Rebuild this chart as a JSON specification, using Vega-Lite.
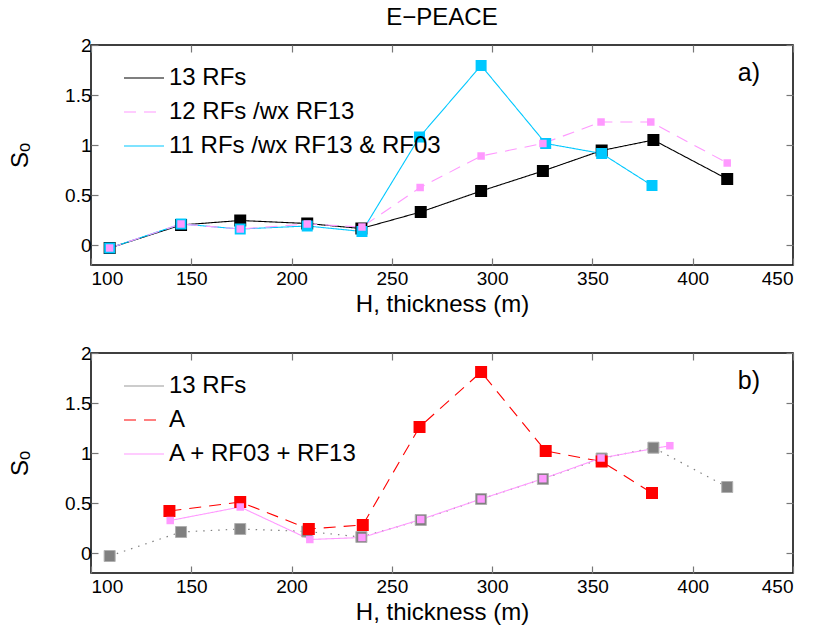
{
  "$schema": "https://vega.github.io/schema/vega-lite/v6.json",
  "padding": {"left": 7, "top": 5, "right": 5, "bottom": 5},
  "background": "white",
  "config": {
    "font": "Liberation Sans",
    "view": {"stroke": "black", "strokeWidth": 1.5},
    "title": {"fontSize": 24, "fontWeight": "normal", "color": "black"},
    "axis": {"grid": false, "domain": false, "tickSize": -7, "tickColor": "#777777", "tickWidth": 1.2,
             "labelFontSize": 19, "labelColor": "black", "titleFontSize": 24, "titleFontWeight": "normal", "titleColor": "black", "labelPadding": 11},
    "legend": {"orient": "none", "legendX": 32, "legendY": 12, "labelFontSize": 24, "labelColor": "black", "symbolType": "stroke", "labelLimit": 0,
               "symbolSize": 1600, "symbolStrokeWidth": 1.2, "rowPadding": 1, "labelOffset": 4, "title": null, "padding": 0}
  },
  "datasets": {
    "top": [
      {"s": "13 RFs", "h": 109.3, "so": -0.03}, {"s": "13 RFs", "h": 144.9, "so": 0.2}, {"s": "13 RFs", "h": 174.4, "so": 0.245},
      {"s": "13 RFs", "h": 207.8, "so": 0.215}, {"s": "13 RFs", "h": 234.8, "so": 0.165}, {"s": "13 RFs", "h": 264.4, "so": 0.33},
      {"s": "13 RFs", "h": 294.5, "so": 0.54}, {"s": "13 RFs", "h": 325.3, "so": 0.74}, {"s": "13 RFs", "h": 354.6, "so": 0.945},
      {"s": "13 RFs", "h": 380.4, "so": 1.05}, {"s": "13 RFs", "h": 417.2, "so": 0.66},
      {"s": "12 RFs /wx RF13", "h": 109.3, "so": -0.03}, {"s": "12 RFs /wx RF13", "h": 144.9, "so": 0.21}, {"s": "12 RFs /wx RF13", "h": 174.4, "so": 0.16},
      {"s": "12 RFs /wx RF13", "h": 207.8, "so": 0.21}, {"s": "12 RFs /wx RF13", "h": 235.1, "so": 0.18}, {"s": "12 RFs /wx RF13", "h": 264.1, "so": 0.575},
      {"s": "12 RFs /wx RF13", "h": 294.5, "so": 0.89}, {"s": "12 RFs /wx RF13", "h": 325.3, "so": 1.015}, {"s": "12 RFs /wx RF13", "h": 354.3, "so": 1.23},
      {"s": "12 RFs /wx RF13", "h": 379.1, "so": 1.23}, {"s": "12 RFs /wx RF13", "h": 417.2, "so": 0.82},
      {"s": "11 RFs /wx RF13 & RF03", "h": 109.3, "so": -0.03}, {"s": "11 RFs /wx RF13 & RF03", "h": 144.9, "so": 0.21}, {"s": "11 RFs /wx RF13 & RF03", "h": 174.4, "so": 0.16},
      {"s": "11 RFs /wx RF13 & RF03", "h": 207.8, "so": 0.19}, {"s": "11 RFs /wx RF13 & RF03", "h": 235.1, "so": 0.135}, {"s": "11 RFs /wx RF13 & RF03", "h": 263.8, "so": 1.08},
      {"s": "11 RFs /wx RF13 & RF03", "h": 294.5, "so": 1.795}, {"s": "11 RFs /wx RF13 & RF03", "h": 326.7, "so": 1.015}, {"s": "11 RFs /wx RF13 & RF03", "h": 354.6, "so": 0.915},
      {"s": "11 RFs /wx RF13 & RF03", "h": 379.7, "so": 0.595}
    ],
    "bot": [
      {"s": "13 RFs", "h": 109.3, "so": -0.03}, {"s": "13 RFs", "h": 144.9, "so": 0.21}, {"s": "13 RFs", "h": 174.4, "so": 0.24},
      {"s": "13 RFs", "h": 207.8, "so": 0.215}, {"s": "13 RFs", "h": 234.8, "so": 0.16}, {"s": "13 RFs", "h": 264.4, "so": 0.33},
      {"s": "13 RFs", "h": 294.5, "so": 0.54}, {"s": "13 RFs", "h": 325.3, "so": 0.74}, {"s": "13 RFs", "h": 354.6, "so": 0.945},
      {"s": "13 RFs", "h": 380.4, "so": 1.053}, {"s": "13 RFs", "h": 417.2, "so": 0.66},
      {"s": "A", "h": 139.1, "so": 0.42}, {"s": "A", "h": 174.4, "so": 0.51}, {"s": "A", "h": 208.6, "so": 0.24},
      {"s": "A", "h": 235.5, "so": 0.28}, {"s": "A", "h": 263.8, "so": 1.26}, {"s": "A", "h": 294.5, "so": 1.81},
      {"s": "A", "h": 326.7, "so": 1.02}, {"s": "A", "h": 354.6, "so": 0.915}, {"s": "A", "h": 379.7, "so": 0.6},
      {"s": "A + RF03 + RF13", "h": 139.5, "so": 0.325}, {"s": "A + RF03 + RF13", "h": 174.4, "so": 0.46}, {"s": "A + RF03 + RF13", "h": 209.1, "so": 0.135},
      {"s": "A + RF03 + RF13", "h": 235.1, "so": 0.155}, {"s": "A + RF03 + RF13", "h": 264.4, "so": 0.335}, {"s": "A + RF03 + RF13", "h": 294.5, "so": 0.54},
      {"s": "A + RF03 + RF13", "h": 325.3, "so": 0.743}, {"s": "A + RF03 + RF13", "h": 354.3, "so": 0.95}, {"s": "A + RF03 + RF13", "h": 388.6, "so": 1.073}
    ],
    "labs": [{"t": "a)", "h": 428, "so": 1.72}],
    "labsb": [{"t": "b)", "h": 428, "so": 1.72}]
  },
  "spacing": 26,
  "vconcat": [
    {
      "width": 702, "height": 220,
      "title": {"text": "E−PEACE", "fontSize": 24, "fontWeight": "normal", "anchor": "middle", "offset": 6, "color": "black"},
      "layer": [
        {
          "data": {"name": "top"},
          "encoding": {
            "x": {"field": "h", "type": "quantitative", "scale": {"domain": [100, 450], "nice": false},
                  "axis": {"values": [100, 150, 200, 250, 300, 350, 400, 450], "title": "H, thickness (m)", "titlePadding": 4}},
            "y": {"field": "so", "type": "quantitative", "scale": {"domain": [-0.2, 2], "nice": false, "zero": false},
                  "axis": {"values": [0, 0.5, 1, 1.5, 2], "format": "~g", "title": "Sₒ", "titlePadding": 32, "labelPadding": 7}}
          },
          "layer": [
            {"transform": [{"filter": "datum.s == '13 RFs'"}], "mark": {"type": "line", "strokeWidth": 1.1},
             "encoding": {"color": {"field": "s", "type": "nominal", "scale": {"domain": ["13 RFs", "12 RFs /wx RF13", "11 RFs /wx RF13 & RF03"], "range": ["#000000", "#ff99ff", "#00c8ff"]}},
                          "strokeDash": {"field": "s", "type": "nominal", "scale": {"domain": ["13 RFs", "12 RFs /wx RF13", "11 RFs /wx RF13 & RF03"], "range": [[1, 0], [12, 8], [1, 0]]}}}},
            {"transform": [{"filter": "datum.s == '11 RFs /wx RF13 & RF03'"}], "mark": {"type": "line", "strokeWidth": 1.1},
             "encoding": {"color": {"field": "s", "type": "nominal"}, "strokeDash": {"field": "s", "type": "nominal"}}},
            {"transform": [{"filter": "datum.s == '12 RFs /wx RF13'"}], "mark": {"type": "line", "strokeWidth": 1.1},
             "encoding": {"color": {"field": "s", "type": "nominal"}, "strokeDash": {"field": "s", "type": "nominal"}}},
            {"transform": [{"filter": "datum.s == '13 RFs'"}], "mark": {"type": "point", "shape": "square", "filled": true, "size": 144, "color": "#000000", "opacity": 1}, "encoding": {}},
            {"transform": [{"filter": "datum.s == '11 RFs /wx RF13 & RF03'"}], "mark": {"type": "point", "shape": "square", "filled": true, "size": 121, "color": "#00c8ff", "opacity": 1}, "encoding": {}},
            {"transform": [{"filter": "datum.s == '12 RFs /wx RF13'"}], "mark": {"type": "point", "shape": "square", "filled": true, "size": 56, "color": "#ff99ff", "opacity": 1}, "encoding": {}}
          ]
        },
        {"data": {"name": "labs"}, "mark": {"type": "text", "fontSize": 25, "color": "black"},
         "encoding": {"text": {"field": "t"},
                      "x": {"field": "h", "type": "quantitative", "axis": {"orient": "top", "labels": false, "title": null, "values": [100, 150, 200, 250, 300, 350, 400, 450]}},
                      "y": {"field": "so", "type": "quantitative", "axis": {"orient": "right", "labels": false, "title": null, "values": [0, 0.5, 1, 1.5, 2]}}}}
      ],
      "resolve": {"axis": {"x": "independent", "y": "independent"}}
    },
    {
      "width": 702, "height": 220,
      "layer": [
        {
          "data": {"name": "bot"},
          "encoding": {
            "x": {"field": "h", "type": "quantitative", "scale": {"domain": [100, 450], "nice": false},
                  "axis": {"values": [100, 150, 200, 250, 300, 350, 400, 450], "title": "H, thickness (m)", "titlePadding": 4}},
            "y": {"field": "so", "type": "quantitative", "scale": {"domain": [-0.2, 2], "nice": false, "zero": false},
                  "axis": {"values": [0, 0.5, 1, 1.5, 2], "format": "~g", "title": "Sₒ", "titlePadding": 32, "labelPadding": 7}}
          },
          "layer": [
            {"transform": [{"filter": "datum.s == '13 RFs'"}], "mark": {"type": "line", "strokeWidth": 1.2, "strokeDash": [1.5, 6], "color": "#808080"}, "encoding": {}},
            {"transform": [{"filter": "datum.s == 'A'"}], "mark": {"type": "line", "strokeWidth": 1.1},
             "encoding": {"color": {"field": "s", "type": "nominal", "scale": {"domain": ["13 RFs", "A", "A + RF03 + RF13"], "range": ["#999999", "#ff0000", "#ff99ff"]}},
                          "strokeDash": {"field": "s", "type": "nominal", "scale": {"domain": ["13 RFs", "A", "A + RF03 + RF13"], "range": [[1, 0], [12, 8], [1, 0]]}}}},
            {"transform": [{"filter": "datum.s == 'A + RF03 + RF13'"}], "mark": {"type": "line", "strokeWidth": 1.1},
             "encoding": {"color": {"field": "s", "type": "nominal"}, "strokeDash": {"field": "s", "type": "nominal"}}},
            {"transform": [{"filter": "datum.s == '13 RFs'"}], "mark": {"type": "point", "shape": "square", "filled": true, "size": 121, "fill": "#808080", "stroke": "#b0b0b0", "strokeWidth": 1, "opacity": 1}, "encoding": {}},
            {"transform": [{"filter": "datum.s == 'A'"}], "mark": {"type": "point", "shape": "square", "filled": true, "size": 144, "color": "#ff0000", "opacity": 1}, "encoding": {}},
            {"transform": [{"filter": "datum.s == 'A + RF03 + RF13'"}], "mark": {"type": "point", "shape": "square", "filled": true, "size": 56, "color": "#ff99ff", "opacity": 1}, "encoding": {}}
          ]
        },
        {"data": {"name": "labsb"}, "mark": {"type": "text", "fontSize": 25, "color": "black"},
         "encoding": {"text": {"field": "t"},
                      "x": {"field": "h", "type": "quantitative", "axis": {"orient": "top", "labels": false, "title": null, "values": [100, 150, 200, 250, 300, 350, 400, 450]}},
                      "y": {"field": "so", "type": "quantitative", "axis": {"orient": "right", "labels": false, "title": null, "values": [0, 0.5, 1, 1.5, 2]}}}}
      ],
      "resolve": {"axis": {"x": "independent", "y": "independent"}}
    }
  ],
  "resolve": {"scale": {"color": "independent", "strokeDash": "independent"}}
}
